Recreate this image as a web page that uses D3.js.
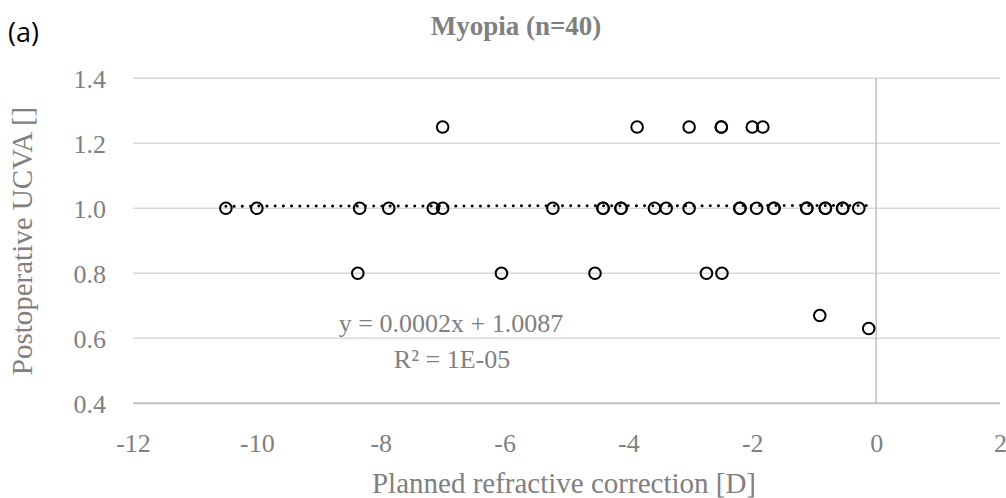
<!DOCTYPE html>
<html><head><meta charset="utf-8">
<script src="https://cdn.jsdelivr.net/npm/d3@7"></script>
<style>
html,body{margin:0;padding:0;background:#fff;}
svg{display:block;}
</style></head>
<body>
<script>
// ---- data ----
const titleText = "Myopia (n=40)";
const panelLabel = "(a)";
const xAxisTitle = "Planned refractive correction [D]";
const yAxisTitle = "Postoperative UCVA []";
const xTicks = [-12, -10, -8, -6, -4, -2, 0, 2];
const yTicks = [0.4, 0.6, 0.8, 1.0, 1.2, 1.4];
const xValues = [
  -7.0, -3.86, -3.02, -2.5, -2.5, -2.0, -1.83,
  -10.5, -10.0, -8.34, -7.87, -7.15, -7.0, -5.22, -4.41, -4.41, -4.12, -4.12, -3.58, -3.39,
  -3.02, -2.2, -2.2, -1.93, -1.65, -1.65, -1.12, -1.12, -0.82, -0.82, -0.54, -0.54, -0.28,
  -8.37, -6.05, -4.54, -2.74, -2.49,
  -0.91, -0.12
];
const yValues = [
  1.25, 1.25, 1.25, 1.25, 1.25, 1.25, 1.25,
  1.0, 1.0, 1.0, 1.0, 1.0, 1.0, 1.0, 1.0, 1.0, 1.0, 1.0, 1.0, 1.0,
  1.0, 1.0, 1.0, 1.0, 1.0, 1.0, 1.0, 1.0, 1.0, 1.0, 1.0, 1.0, 1.0,
  0.8, 0.8, 0.8, 0.8, 0.8,
  0.67, 0.63
];
const trendSlope = 0.0002;
const trendIntercept = 1.0087;
const eqLines = ["y = 0.0002x + 1.0087", "R² = 1E-05"];

// ---- drawing ----
const W = 1006, H = 498;
const svg = d3.select("body").append("svg").attr("width", W).attr("height", H);
const serif = "'Liberation Serif', 'Times New Roman', serif";
const gray = "#808080";

const x = d3.scaleLinear().domain([-12, 2]).range([133, 1000]);
const y = d3.scaleLinear().domain([0.4, 1.4]).range([403.3, 78.3]);

// gridlines
svg.append("g").selectAll("line").data(yTicks.filter(d => d > 0.4)).join("line")
  .attr("x1", x(-12)).attr("x2", x(2))
  .attr("y1", d => y(d)).attr("y2", d => y(d))
  .attr("stroke", "#d9d9d9").attr("stroke-width", 1.5);

// vertical axis line at x=0
svg.append("line")
  .attr("x1", x(0)).attr("x2", x(0)).attr("y1", y(1.4)).attr("y2", y(0.4))
  .attr("stroke", "#bfbfbf").attr("stroke-width", 1.5);

// bottom axis line
svg.append("line")
  .attr("x1", x(-12)).attr("x2", x(2)).attr("y1", y(0.4)).attr("y2", y(0.4))
  .attr("stroke", "#bfbfbf").attr("stroke-width", 2);

// y tick labels
const yAxis = d3.axisLeft(y).tickValues(yTicks).tickFormat(d3.format(".1f")).tickSize(0).tickPadding(0);
const gy = svg.append("g").attr("transform", `translate(${106},0)`).call(yAxis);
gy.select(".domain").remove();
gy.selectAll("text").attr("font-family", serif).attr("font-size", 26).attr("fill", gray)
  .attr("dy", "0.34em");

// x tick labels
const xAxis = d3.axisBottom(x).tickValues(xTicks).tickFormat(d3.format("d")).tickSize(0).tickPadding(0);
const gx = svg.append("g").attr("transform", `translate(0,${434})`).call(xAxis);
gx.select(".domain").remove();
gx.selectAll("text").attr("font-family", serif).attr("font-size", 26).attr("fill", gray)
  .text(d => (d < 0 ? "-" + Math.abs(d) : d));

// trendline
const xmin = d3.min(xValues), xmax = d3.max(xValues);
svg.append("line")
  .attr("x1", x(xmin)).attr("x2", x(xmax))
  .attr("y1", y(trendSlope * xmin + trendIntercept)).attr("y2", y(trendSlope * xmax + trendIntercept))
  .attr("stroke", "#000").attr("stroke-width", 3)
  .attr("stroke-linecap", "round").attr("stroke-dasharray", "0.01 8.2");

// points
svg.append("g").selectAll("circle").data(xValues.map((v, i) => [v, yValues[i]])).join("circle")
  .attr("cx", d => x(d[0])).attr("cy", d => y(d[1])).attr("r", 5.8)
  .attr("fill", "none").attr("stroke", "#000").attr("stroke-width", 2);

// equation
svg.append("text").attr("x", 451).attr("y", 332).attr("text-anchor", "middle")
  .attr("font-family", serif).attr("font-size", 26).attr("fill", gray).text(eqLines[0]);
svg.append("text").attr("x", 452).attr("y", 368).attr("text-anchor", "middle")
  .attr("font-family", serif).attr("font-size", 26).attr("fill", gray).text(eqLines[1]);

// title
svg.append("text").attr("x", 516).attr("y", 35).attr("text-anchor", "middle")
  .attr("font-family", serif).attr("font-size", 27).attr("font-weight", "bold").attr("fill", gray)
  .text(titleText);

// panel label
svg.append("text").attr("x", 8).attr("y", 42)
  .attr("font-family", "'Open Sans', sans-serif").attr("font-size", 27).attr("fill", "#000")
  .text(panelLabel);

// axis titles
svg.append("text").attr("x", 564).attr("y", 493).attr("text-anchor", "middle")
  .attr("font-family", serif).attr("font-size", 29).attr("fill", gray).text(xAxisTitle);
svg.append("text").attr("transform", `translate(32,241) rotate(-90)`).attr("text-anchor", "middle")
  .attr("font-family", serif).attr("font-size", 29).attr("fill", gray).text(yAxisTitle);
</script>
</body></html>
